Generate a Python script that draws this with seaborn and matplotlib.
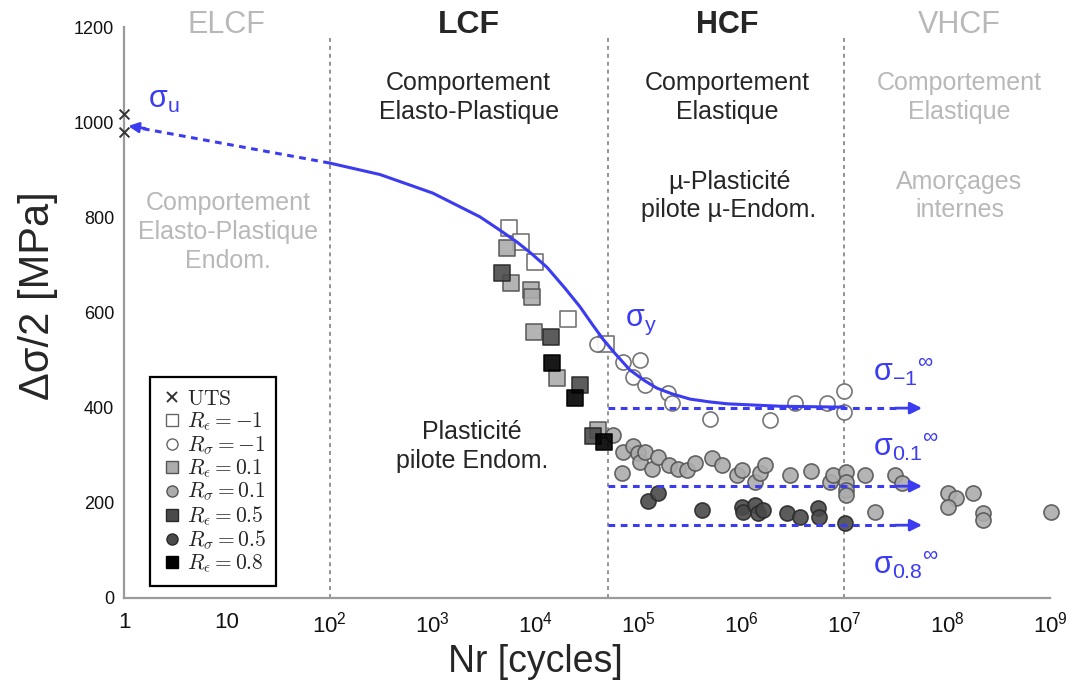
import numpy as np
import pandas as pd
import seaborn as sns
import matplotlib.pyplot as plt
from matplotlib.lines import Line2D
from matplotlib.ticker import FixedLocator, NullFormatter

# ---- data (N cycles, stress amplitude MPa) ----
uts_n = [1, 1]
uts_s = [1017, 979]

re_m1_n = [5.5e3, 7.2e3, 9.9e3, 2.07e4, 4.8e4]
re_m1_s = [777, 748, 706, 586, 534]

rs_m1_n = [3.95e4, 7.07e4, 1.03e5, 8.85e4, 1.16e5, 1.94e5, 2.12e5, 4.96e5, 1.9e6,
           3.32e6, 6.8e6, 1.0e7, 1.0e7]
rs_m1_s = [534, 496, 500, 464, 447, 431, 410, 376, 374, 410, 410, 435, 391]

re_01_n = [5.27e3, 5.77e3, 9.0e3, 9.2e3, 9.65e3, 1.6e4, 4.04e4]
re_01_s = [735, 662, 647, 632, 559, 462, 353]

rs_01_n = [5.65e4, 7.07e4, 8.85e4, 9.9e4, 1.03e5, 1.16e5, 1.35e5, 1.55e5, 1.98e5,
           2.42e5, 2.96e5, 3.54e5, 5.18e5, 6.47e5, 6.9e4, 9.1e5, 1.01e6, 1.36e6,
           1.52e6, 1.7e6, 2.97e6, 4.75e6, 7.26e6, 7.76e6, 1.04e7, 1.04e7, 1.04e7,
           1.04e7, 1.59e7, 1.99e7, 3.11e7, 3.64e7, 1.02e8, 1.22e8, 1.02e8, 1.78e8,
           2.23e8, 2.23e8, 1.02e9]
rs_01_s = [342, 307, 319, 305, 286, 307, 271, 296, 279,
           271, 269, 284, 294, 279, 263, 258, 269, 244,
           263, 279, 258, 267, 244, 258, 265, 244, 227,
           216, 258, 181, 258, 242, 221, 210, 191, 221,
           179, 164, 181]

re_05_n = [4.71e3, 1.41e4, 2.7e4, 3.61e4]
re_05_s = [683, 548, 447, 340]

rs_05_n = [1.24e5, 1.55e5, 4.14e5, 1.01e6, 1.04e6, 1.36e6, 1.45e6, 1.62e6, 2.77e6,
           3.72e6, 5.55e6, 5.67e6, 1.02e7]
rs_05_s = [204, 221, 185, 191, 181, 195, 179, 185, 179,
           170, 189, 170, 158]

re_08_n = [1.44e4, 2.41e4, 4.62e4]
re_08_s = [494, 420, 328]

curve_n = [1e2, 3.07e2, 1.0e3, 2.88e3, 4.5e3, 6.6e3, 9.2e3, 1.29e4, 1.93e4, 2.7e4,
           3.53e4, 4.52e4, 5.91e4, 8.26e4, 1.16e5, 1.51e5, 2.12e5, 3.17e5, 4.95e5,
           7.4e5, 2.37e6, 1.0e7]
curve_s = [914, 890, 851, 801, 773, 748, 723, 695, 651, 612,
           576, 544, 514, 479, 456, 441, 429, 418, 412,
           408, 403, 401]

sigma_u_n = [1e2, 1.1]
sigma_u_s = [914, 992]

limit_n = [5e4, 5.7e7]
limit_levels = [399, 235, 153]

bounds = [1e2, 5e4, 1e7]

BLUE = '#3b3bf2'
GRAY_TXT = '#b8b8b8'

sns.set_style('white')
plt.rcParams['font.family'] = ['Liberation Sans', 'DejaVu Sans']

fig = plt.figure(figsize=(10.74, 6.82), dpi=100)
ax = fig.add_axes([0.1155, 0.1232, 0.8622, 0.8372])
ax.set_xscale('log')

for b in bounds:
    ax.axvline(b, ymax=0.98, color='#8a8a8a', ls=(0, (2.2, 2.2)), lw=1.3, zorder=1)

# markers: (n, s, marker, face, edge, label)
groups = [
    (uts_n, uts_s, 'x', '#333333', '#333333', r'$\mathrm{UTS}$'),
    (re_m1_n, re_m1_s, 's', 'white', '#666666', r'$R_\epsilon = -1$'),
    (rs_m1_n, rs_m1_s, 'o', 'white', '#666666', r'$R_\sigma = -1$'),
    (re_01_n, re_01_s, 's', '#acacac', '#555555', r'$R_\epsilon = 0.1$'),
    (rs_01_n, rs_01_s, 'o', '#acacac', '#555555', r'$R_\sigma = 0.1$'),
    (re_05_n, re_05_s, 's', '#4a4a4a', '#2a2a2a', r'$R_\epsilon = 0.5$'),
    (rs_05_n, rs_05_s, 'o', '#4a4a4a', '#2a2a2a', r'$R_\sigma = 0.5$'),
    (re_08_n, re_08_s, 's', '#000000', '#000000', r'$R_\epsilon = 0.8$'),
]

handles = []
for n, s, mk, fc, ec, lab in groups:
    df = pd.DataFrame({'N': n, 'S': s})
    if mk == 'x':
        sns.scatterplot(data=df, x='N', y='S', ax=ax, marker='x', color=fc,
                        s=50, linewidth=1.4, clip_on=False, zorder=3, legend=False)
        handles.append(Line2D([], [], marker='x', ls='none', color=fc, ms=7, mew=1.4, label=lab))
    else:
        sns.scatterplot(data=df, x='N', y='S', ax=ax, marker=mk, color=fc,
                        edgecolor=ec, s=118, linewidth=1.2, alpha=0.9,
                        clip_on=False, zorder=2, legend=False)
        handles.append(Line2D([], [], marker=mk, ls='none', mfc=fc, mec=ec, ms=8, mew=1.0, label=lab))

# blue curves
sns.lineplot(x=curve_n, y=curve_s, ax=ax, color=BLUE, lw=2.2, sort=False, estimator=None, zorder=4)
ax.plot(sigma_u_n, sigma_u_s, color=BLUE, lw=2.2, ls=(0, (2.2, 1.8)), zorder=4)
ax.annotate('', xy=(sigma_u_n[1], sigma_u_s[1]), xytext=(1.6, 987),
            arrowprops=dict(arrowstyle='-|>,head_length=0.6,head_width=0.3', color=BLUE,
                            lw=2, shrinkA=0, shrinkB=0), zorder=4, annotation_clip=False)
for lv in limit_levels:
    ax.plot([limit_n[0], limit_n[1] * 0.6], [lv, lv], color=BLUE, lw=2.2, ls=(0, (2.2, 1.8)), zorder=4)
    ax.annotate('', xy=(limit_n[1], lv), xytext=(limit_n[1] * 0.55, lv),
                arrowprops=dict(arrowstyle='-|>,head_length=0.7,head_width=0.35', color=BLUE,
                                lw=2, shrinkA=0, shrinkB=0), zorder=4)

# axes styling
ax.set_xlim(1, 1e9)
ax.set_ylim(0, 1200)
for sp in ['top', 'right']:
    ax.spines[sp].set_visible(False)
for sp in ['left', 'bottom']:
    ax.spines[sp].set_color('#9a9a9a')
    ax.spines[sp].set_linewidth(1.6)

ax.xaxis.set_major_locator(FixedLocator([10.0 ** k for k in range(10)]))
minors = [m * 10.0 ** k for k in range(9) for m in range(2, 10)]
ax.xaxis.set_minor_locator(FixedLocator(minors))
ax.xaxis.set_minor_formatter(NullFormatter())
xlabels = ['1', '10'] + [r'$\mathregular{10^{%d}}$' % k for k in range(2, 10)]
ax.set_xticklabels(xlabels)
ax.set_yticks(range(0, 1201, 200))
ax.tick_params(axis='both', which='major', direction='in', length=6, width=1.2,
               color='#8a8a8a', labelcolor='#111111')
ax.tick_params(axis='x', which='major', pad=10, labelsize=16)
ax.tick_params(axis='y', which='major', pad=7, labelsize=13)
ax.tick_params(axis='x', which='minor', direction='in', length=4, width=1.0, color='#8a8a8a')

ax.set_xlabel('Nr [cycles]', fontsize=27)
ax.set_ylabel('Δσ/2 [MPa]', fontsize=30)
ax.xaxis.set_label_coords(0.444, -0.08)
ax.yaxis.set_label_coords(-0.071, 0.53)

# regime titles
ax.text(10, 1204, 'ELCF', ha='center', va='center', fontsize=22, color=GRAY_TXT)
ax.text(10 ** 3.35, 1204, 'LCF', ha='center', va='center', fontsize=23, fontweight='bold')
ax.text(10 ** 5.86, 1204, 'HCF', ha='center', va='center', fontsize=22, fontweight='bold')
ax.text(10 ** 8.12, 1204, 'VHCF', ha='center', va='center', fontsize=22, color=GRAY_TXT)

txt = dict(ha='center', va='center', fontsize=18, linespacing=1.25)
ax.text(10 ** 3.35, 1052, 'Comportement\nElasto-Plastique', **txt)
ax.text(10 ** 5.86, 1052, 'Comportement\nElastique', **txt)
ax.text(10 ** 8.12, 1052, 'Comportement\nElastique', color=GRAY_TXT, **txt)
ax.text(10 ** 5.88, 845, 'µ-Plasticité\npilote µ-Endom.', **txt)
ax.text(10 ** 8.12, 845, 'Amorçages\ninternes', color=GRAY_TXT, **txt)
ax.text(10 ** 1.01, 769, 'Comportement\nElasto-Plastique\nEndom.', color=GRAY_TXT, **txt)
ax.text(10 ** 3.38, 319, 'Plasticité\npilote Endom.', **txt)

# sigma labels
sig = dict(fontsize=22, color=BLUE, va='center')
ax.text(1.71, 1046, r'σ$_{\mathregular{u}}$', **sig)
ax.text(10 ** 4.87, 580, r'σ$_{\mathregular{y}}$', **sig)
ax.text(10 ** 7.28, 475, r'σ$_{\mathregular{-1}}{}^{\mathregular{\infty}}$', **sig)
ax.text(10 ** 7.28, 317, r'σ$_{\mathregular{0.1}}{}^{\mathregular{\infty}}$', **sig)
ax.text(10 ** 7.28, 69, r'σ$_{\mathregular{0.8}}{}^{\mathregular{\infty}}$', **sig)

leg = ax.legend(handles=handles, loc='lower left', bbox_to_anchor=(0.028, 0.021),
                borderaxespad=0, frameon=True, fancybox=False, framealpha=1,
                prop={'size': 15.5, 'math_fontfamily': 'cm', 'family': 'serif'},
                handletextpad=0.2, handlelength=1.0, labelspacing=0.05,
                borderpad=0.5)
leg.get_frame().set_edgecolor('black')
leg.get_frame().set_linewidth(1.6)

fig.savefig('out.png', dpi=100, facecolor='white')
